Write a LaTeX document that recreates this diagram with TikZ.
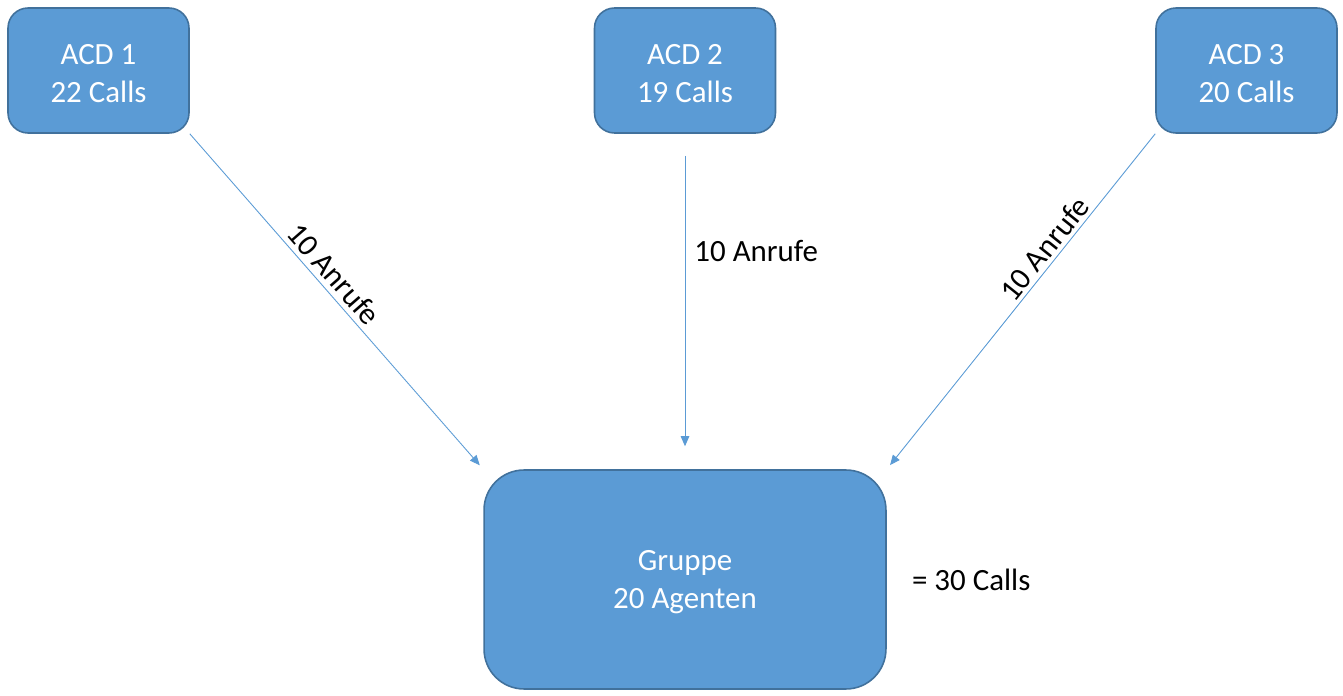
\documentclass[tikz,border=0pt]{standalone}
\usepackage{fontspec}
\setmainfont{Carlito}
\usepackage{xcolor}
\usetikzlibrary{arrows.meta}
\usetikzlibrary{positioning}

\definecolor{boxfill}{HTML}{5B9BD5}
\definecolor{boxline}{HTML}{41719C}

\newcommand{\topgap}{\rule{0pt}{14.5pt}}

\tikzset{
  acdbox/.style={draw=boxline, line width=0.9pt, fill=boxfill, text=white,
    rounded corners=0.4cm, align=center, minimum width=3.62cm, minimum height=2.5cm,
    inner sep=0pt, font=\fontsize{17.6}{21.5}\selectfont},
  groupbox/.style={acdbox, rounded corners=0.8cm, minimum width=8.04cm, minimum height=4.38cm},
  flow/.style={draw=boxfill, line width=0.5pt, -{Triangle[length=0.2cm,width=0.17cm]}},
  flowlabel/.style={font=\fontsize{17.6}{21.5}\selectfont, text=black},
}

\begin{document}
\begin{tikzpicture}[x=0.02cm, y=-0.02cm]
        \useasboundingbox (0,0) rectangle (1343,696);

        %------------------
        % Knoten
        %------------------

        \node[acdbox] (acd1) at (98.5,70.5) {\topgap ACD 1\\22 Calls};
        \node[acdbox] (acd2) at (685,70.5) {\topgap ACD 2\\19 Calls};
        \node[acdbox] (acd3) at (1246.5,70.5) {\topgap ACD 3\\20 Calls};

        \node[groupbox] (gruppe) at (685,579.5) {\topgap Gruppe\\20 Agenten};

        % Summe
        \node[flowlabel, inner sep=0pt, right=0.5cm of gruppe] (summe) {= 30 Calls};

        %------------------
        % Pfeile
        %------------------

        \draw[flow, shorten >=3pt] (acd1.south east) -- (gruppe.north west)
          node[flowlabel, sloped, above, pos=0.45, inner sep=3pt] (l1) {10 Anrufe};
        \draw[flow, shorten <=0.44cm, shorten >=0.46cm] (acd2.south) -- (gruppe.north)
          node[flowlabel, right, pos=0.35, inner sep=0.18cm] (l2) {10 Anrufe};
        \draw[flow, shorten >=3pt] (acd3.south west) -- (gruppe.north east)
          node[flowlabel, sloped, above, pos=0.37, inner sep=2pt] (l3) {10 Anrufe};
      \end{tikzpicture}
\end{document}
